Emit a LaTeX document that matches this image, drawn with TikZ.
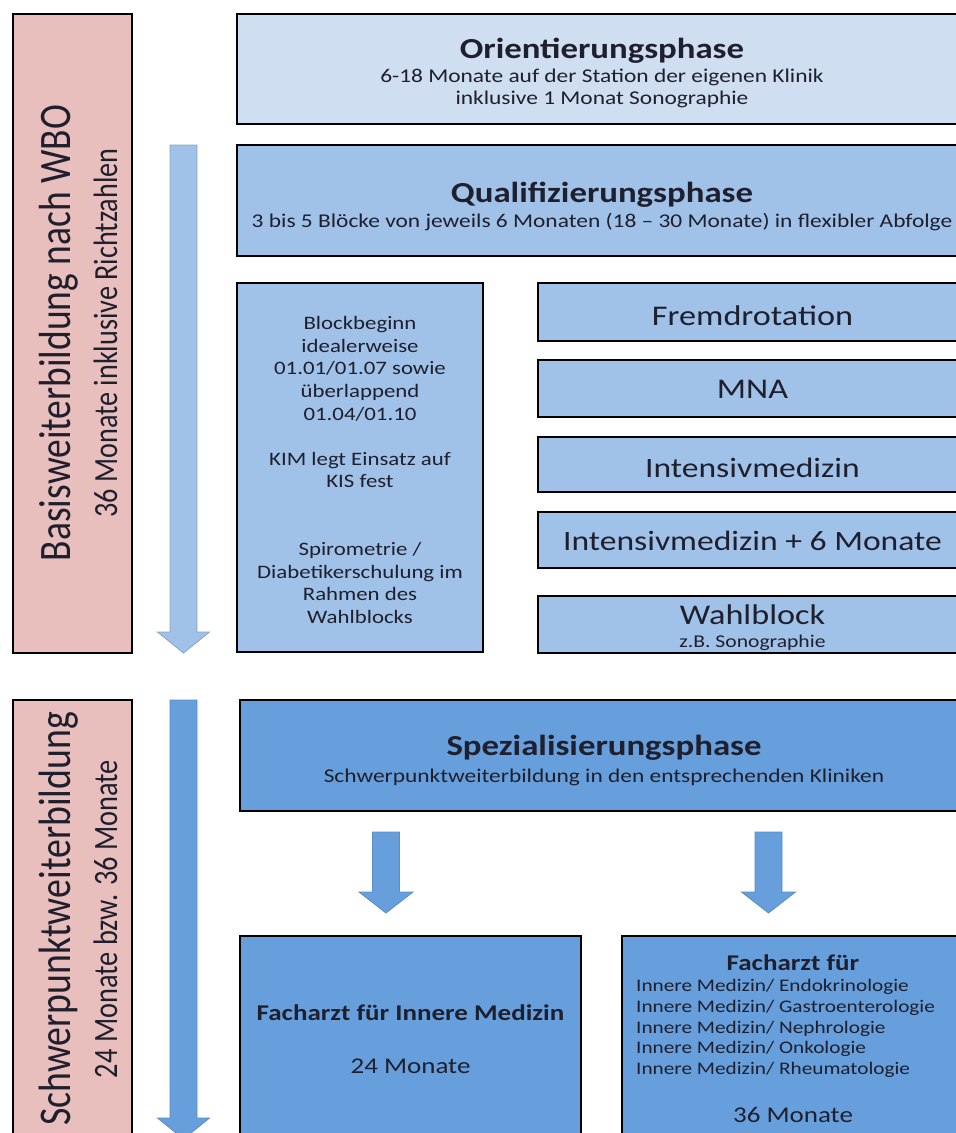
\documentclass[tikz,border=0pt]{standalone}
\usepackage{fontspec}
\setmainfont{Carlito}[FakeStretch=1.2]
\newfontfamily\rotfont{Carlito}
\usetikzlibrary{calc}
\definecolor{pinkfill}{HTML}{E8BFBD}
\definecolor{lightfill}{HTML}{CFDFF1}
\definecolor{midfill}{HTML}{A0C2E8}
\definecolor{darkfill}{HTML}{669FDB}
\definecolor{ink}{HTML}{1F1F2E}
\definecolor{arrowedge}{HTML}{8AA4C4}
\definecolor{arrowedgedark}{HTML}{5B8CC8}
\newcommand{\fs}[1]{\fontsize{#1}{#1}\selectfont}
\newcommand{\blockdown}[7]{%
  \draw[#1] ({#2-#6},#3) -- ({#2+#6},#3) -- ({#2+#6},#4) -- ({#2+#7},#4) -- (#2,#5)
    -- ({#2-#7},#4) -- ({#2-#6},#4) -- cycle;}
\tikzset{
  box/.style={draw=black, line width=1.5pt, anchor=north west, inner sep=0pt, outer sep=0pt},
  lbl/.style={text=ink, inner sep=0pt, anchor=base},
  lightarrow/.style={fill=midfill, draw=arrowedge, line width=0.8pt},
  darkarrow/.style={fill=darkfill, draw=arrowedgedark, line width=0.8pt},
  rottxt/.style={text=ink, inner sep=0pt, anchor=base, xscale=1.2, rotate=90},
}
\begin{document}
\begin{tikzpicture}[x=1pt,y=-1pt]
\useasboundingbox (0,0) rectangle (956,1133);
\clip (0,0) rectangle (956,1133);
\fill[white] (0,0) rectangle (956,1133);

% left pink boxes
\node[box, fill=pinkfill, minimum width=119pt, minimum height=639pt] (basis) at (13,14) {};
\node[rottxt, font=\rotfont\fs{37.5}] (basisT) at (70,333) {Basisweiterbildung nach WBO};
\node[rottxt, font=\rotfont\fs{28.2}] (basisS) at (117,333) {36 Monate inklusive Richtzahlen};

\node[box, fill=pinkfill, minimum width=119pt, minimum height=438pt] (schwer) at (13,700) {};
\node[rottxt, font=\rotfont\fs{37.8}] (schwerT) at (70,919) {Schwerpunktweiterbildung};
\node[rottxt, font=\rotfont\fs{28.4}] (schwerS) at (117,919) {24 Monate bzw. 36 Monate};

% long arrows
\blockdown{lightarrow}{183.5}{145}{632}{653}{13.5}{26}
\blockdown{darkarrow}{183.5}{700}{1118}{1139}{13.5}{26}

% Orientierungsphase
\node[box, fill=lightfill, minimum width=730pt, minimum height=110pt] (orient) at (237,14) {};
\node[lbl, font=\bfseries\fs{29}] (orientT) at (602,58) {Orientierungsphase};
\node[lbl, font=\fs{19.5}] (orientS1) at (602,82) {6-18 Monate auf der Station der eigenen Klinik};
\node[lbl, font=\fs{19.5}] (orientS2) at (602,104) {inklusive 1 Monat Sonographie};

% Qualifizierungsphase
\node[box, fill=midfill, minimum width=730pt, minimum height=111pt] (qual) at (237,145) {};
\node[lbl, font=\bfseries\fs{29}] (qualT) at (602,202) {Qualifizierungsphase};
\node[lbl, font=\fs{19.5}] (qualS) at (602,227) {3 bis 5 Blöcke von jeweils 6 Monaten (18 – 30 Monate) in flexibler Abfolge};

% info box
\node[box, fill=midfill, minimum width=246pt, minimum height=369pt] (info) at (237,283) {};
\node[text=ink, inner sep=0pt, align=center, font=\fontsize{19}{22.6}\selectfont] (infoT) at (360,470)
  {Blockbeginn\\idealerweise\\01.01/01.07 sowie\\überlappend\\01.04/01.10\\[22.6pt]
   KIM legt Einsatz auf\\KIS fest\\[45.2pt]
   Spirometrie /\\Diabetikerschulung im\\Rahmen des\\Wahlblocks};

% right column
\node[box, fill=midfill, minimum width=429pt, minimum height=58pt] (fremd) at (538,283) {};
\node[lbl, font=\fs{28.5}] (fremdT) at (752.5,325) {Fremdrotation};
\node[box, fill=midfill, minimum width=429pt, minimum height=57pt] (mna) at (538,360) {};
\node[lbl, font=\fs{28.5}] (mnaT) at (752.5,398) {MNA};
\node[box, fill=midfill, minimum width=429pt, minimum height=55pt] (intens) at (538,437) {};
\node[lbl, font=\fs{28}] (intensT) at (752.5,477) {Intensivmedizin};
\node[box, fill=midfill, minimum width=429pt, minimum height=56pt] (intenssix) at (538,512) {};
\node[lbl, font=\fs{28}] (intenssixT) at (752.5,550) {Intensivmedizin + 6 Monate};
\node[box, fill=midfill, minimum width=429pt, minimum height=57pt] (wahl) at (538,596) {};
\node[lbl, font=\fs{28.5}] (wahlT) at (752.5,624) {Wahlblock};
\node[lbl, font=\fs{18}] (wahlS) at (752.5,647) {z.B. Sonographie};

% Spezialisierungsphase
\node[box, fill=darkfill, minimum width=728pt, minimum height=111pt] (spez) at (240,700) {};
\node[lbl, font=\bfseries\fs{29}] (spezT) at (604,755) {Spezialisierungsphase};
\node[lbl, font=\fs{19.5}] (spezS) at (604,782) {Schwerpunktweiterbildung in den entsprechenden Kliniken};

% small arrows
\blockdown{darkarrow}{386}{832}{892}{913}{13.5}{27}
\blockdown{darkarrow}{768.5}{832}{892}{913}{13.5}{27}

% Facharzt boxes
\node[box, fill=darkfill, minimum width=341pt, minimum height=207pt] (fachA) at (240,936) {};
\node[lbl, font=\bfseries\fs{22.5}] (fachAT) at (410.5,1020) {Facharzt für Innere Medizin};
\node[lbl, font=\fs{22.5}] (fachAS) at (410.5,1073) {24 Monate};

\node[box, fill=darkfill, minimum width=343pt, minimum height=207pt] (fachB) at (622,936) {};
\node[lbl, font=\bfseries\fs{22.5}] (fachBT) at (793,970) {Facharzt für};
\node[lbl, anchor=base west, font=\fs{17.7}] (fachB1) at (636,991) {Innere Medizin/ Endokrinologie};
\node[lbl, anchor=base west, font=\fs{17.7}] (fachB2) at (636,1012) {Innere Medizin/ Gastroenterologie};
\node[lbl, anchor=base west, font=\fs{17.7}] (fachB3) at (636,1033) {Innere Medizin/ Nephrologie};
\node[lbl, anchor=base west, font=\fs{17.7}] (fachB4) at (636,1053) {Innere Medizin/ Onkologie};
\node[lbl, anchor=base west, font=\fs{17.7}] (fachB5) at (636,1074) {Innere Medizin/ Rheumatologie};
\node[lbl, font=\fs{22.5}] (fachBS) at (793,1122) {36 Monate};
\end{tikzpicture}
\end{document}
